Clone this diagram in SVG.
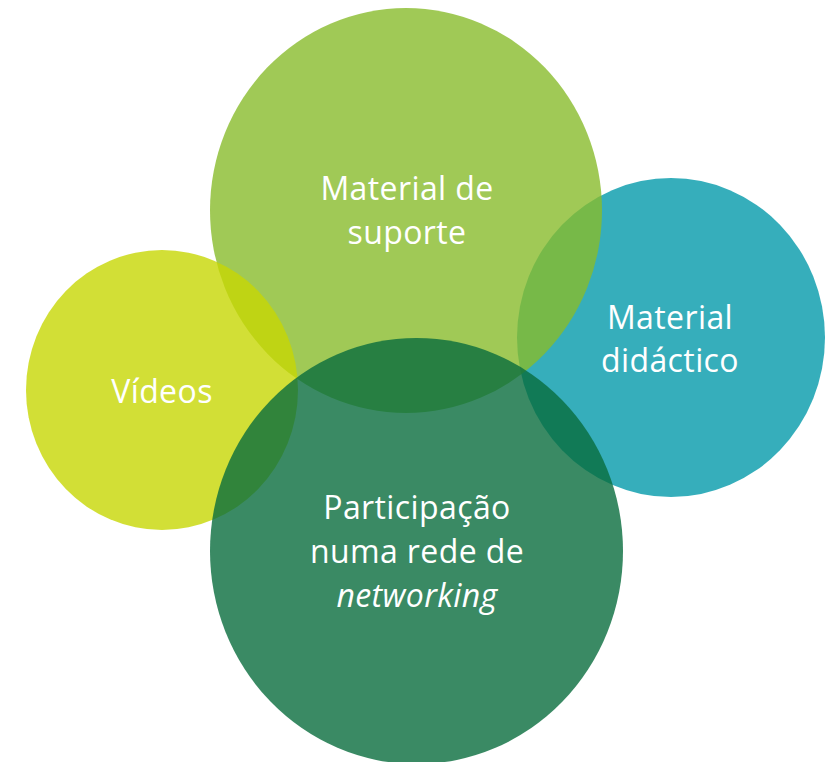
<svg xmlns="http://www.w3.org/2000/svg" width="836" height="762" viewBox="0 0 836 762">
<style>
.c{fill-opacity:0.8}
.t{font-family:"Open Sans","Liberation Sans",sans-serif;font-size:32px;letter-spacing:0.4px;fill:#ffffff;text-anchor:middle}
</style>
<rect width="836" height="762" fill="#ffffff"/>
<g id="node-didactico">
<ellipse class="c" cx="671" cy="337.5" rx="154" ry="159.5" fill="#049aaa"/>
</g>
<g id="node-suporte">
<ellipse class="c" cx="406" cy="210.5" rx="196" ry="202.5" fill="#88bc2c"/>
</g>
<g id="node-videos">
<ellipse class="c" cx="162" cy="390" rx="136" ry="140" fill="#c7d704"/>
</g>
<g id="node-networking">
<ellipse class="c" cx="416.5" cy="551" rx="206.5" ry="213" fill="#096d3d"/>
</g>
<g id="labels">
<text class="t" x="407" y="200">Material de</text>
<text class="t" x="407" y="244">suporte</text>
<text class="t" x="670" y="329">Material</text>
<text class="t" x="670" y="372">didáctico</text>
<text class="t" x="162" y="403">Vídeos</text>
<text class="t" x="417" y="519">Participação</text>
<text class="t" x="417" y="563">numa rede de</text>
<text class="t" x="417" y="607" font-style="italic">networking</text>
</g>
<g id="connectors"></g>
</svg>
